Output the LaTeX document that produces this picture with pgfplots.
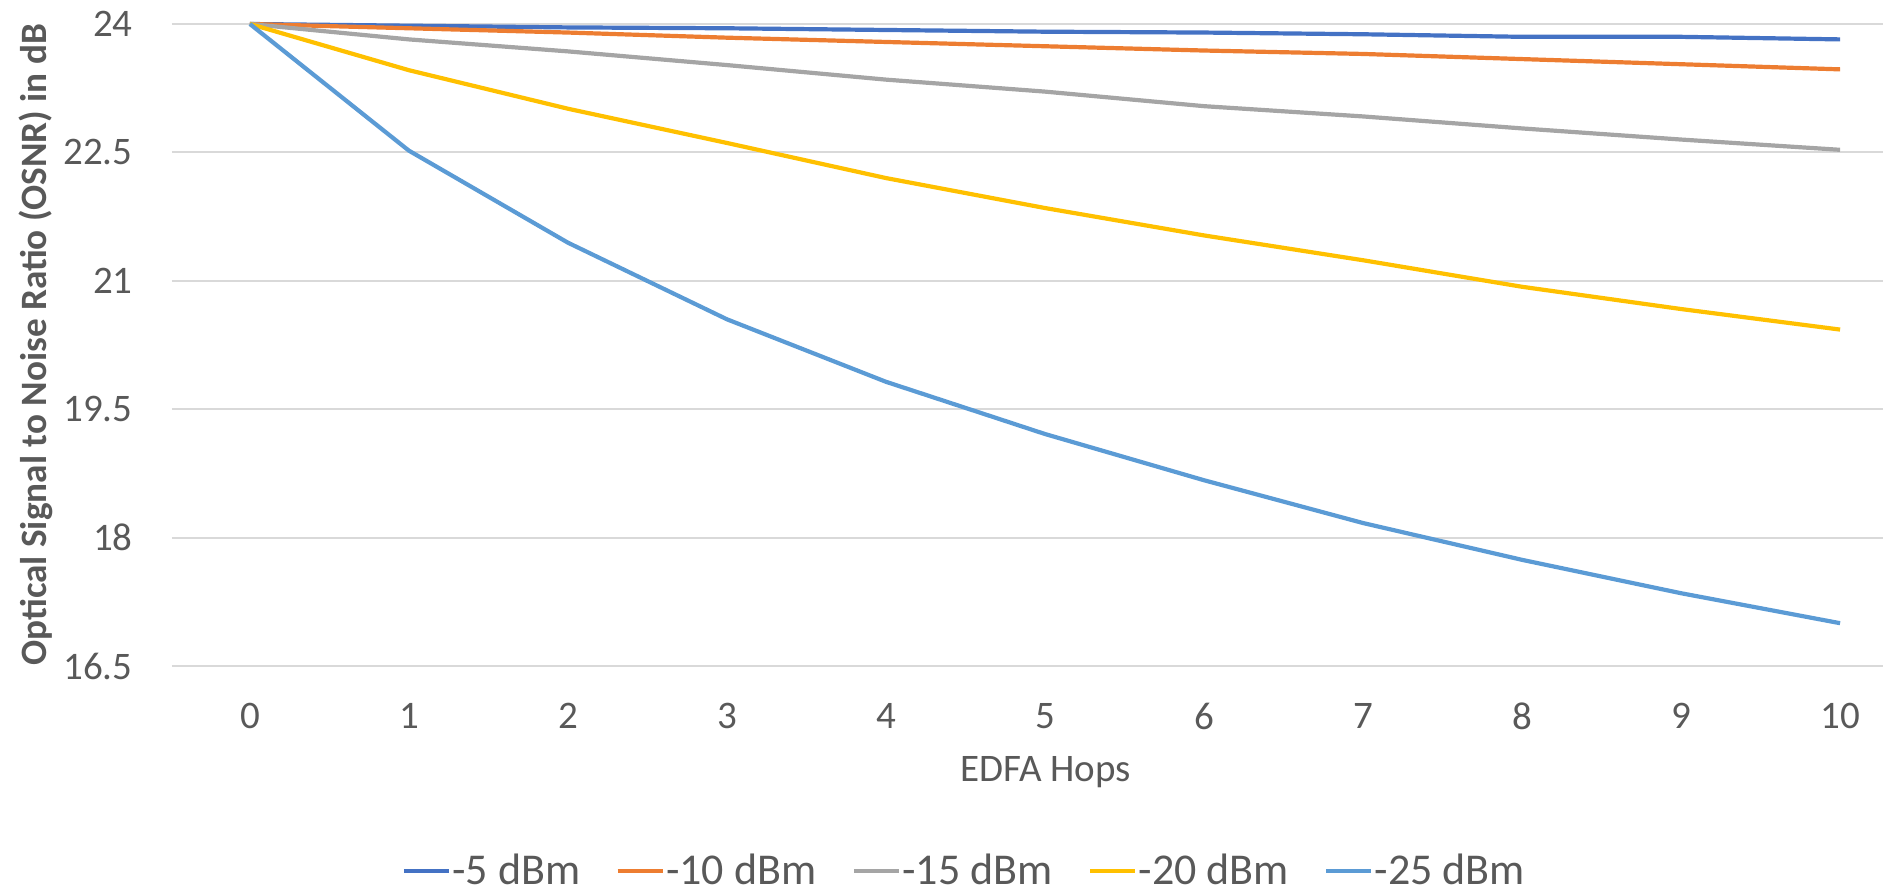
\documentclass[border=0pt]{standalone}
\usepackage{fontspec}
\setmainfont{Carlito}
\usepackage{pgfplots}
\pgfplotsset{compat=1.18}
\definecolor{c5}{HTML}{4472C4}
\definecolor{c10}{HTML}{ED7D31}
\definecolor{c15}{HTML}{A5A5A5}
\definecolor{c20}{HTML}{FFC000}
\definecolor{c25}{HTML}{5B9BD5}
\definecolor{txt}{HTML}{595959}
\definecolor{grd}{HTML}{D9D9D9}
\begin{document}
\begin{tikzpicture}
\begin{axis}[
  name=ax,
  scale only axis,
  width=855.5pt, height=321pt,
  xmin=-0.49, xmax=10.27,
  ymin=16.5, ymax=24,
  clip=false,
  xtick={0,1,2,3,4,5,6,7,8,9,10},
  ytick={16.5,18,19.5,21,22.5,24},
  yticklabels={16.5,18,19.5,21,22.5,24},
  xticklabels={0,1,2,3,4,5,6,7,8,9,10},
  ymajorgrids=true,
  major grid style={color=grd, line width=1pt},
  axis line style={draw=none},
  tick style={draw=none},
  /pgf/number format/assume math mode=true,
  xticklabel style={font=\fontsize{19.5}{22}\selectfont, text=txt, anchor=center, yshift=-25pt, inner sep=0pt},
  yticklabel style={font=\fontsize{19.5}{22}\selectfont, text=txt, anchor=east, xshift=-19.5pt, inner sep=0pt},
  xlabel={EDFA Hops},
  xlabel style={font=\fontsize{19.5}{22}\selectfont, text=txt, at={(axis description cs:0.5107,0)}, anchor=center, yshift=-53pt},
  ylabel={Optical Signal to Noise Ratio (OSNR) in dB},
  ylabel style={font=\fontsize{18.6}{21}\selectfont\bfseries, text=txt, at={(axis description cs:-0.0795,0.5)}, anchor=center},
  legend columns=5,
  legend style={draw=none, fill=none, font=\fontsize{22}{25}\selectfont, text=txt,
    at={(axis description cs:0.463,-0.319)}, anchor=center,
    nodes={inner sep=0.75pt},
    /tikz/every even column/.append style={column sep=17pt}},
  legend image code/.code={\draw[#1, line width=2pt] (0pt,0pt) -- (22.5pt,0pt);},
  every axis plot/.append style={line width=2.1pt, line join=round},
]
\addplot[c5, mark=none] coordinates {(0,24) (1,23.98) (2,23.96) (3,23.95) (4,23.93) (5,23.91) (6,23.90) (7,23.88) (8,23.85) (9,23.85) (10,23.82)};
\addlegendentry{-5 dBm}
\addplot[c10, mark=none] coordinates {(0,24) (1,23.95) (2,23.90) (3,23.84) (4,23.79) (5,23.74) (6,23.69) (7,23.65) (8,23.59) (9,23.53) (10,23.47)};
\addlegendentry{-10 dBm}
\addplot[c15, mark=none] coordinates {(0,24) (1,23.82) (2,23.68) (3,23.52) (4,23.35) (5,23.21) (6,23.04) (7,22.92) (8,22.78) (9,22.65) (10,22.53)};
\addlegendentry{-15 dBm}
\addplot[c20, mark=none] coordinates {(0,24) (1,23.46) (2,23.01) (3,22.61) (4,22.20) (5,21.85) (6,21.53) (7,21.24) (8,20.93) (9,20.67) (10,20.43)};
\addlegendentry{-20 dBm}
\addplot[c25, mark=none] coordinates {(0,24) (1,22.52) (2,21.445) (3,20.55) (4,19.82) (5,19.21) (6,18.67) (7,18.17) (8,17.74) (9,17.35) (10,17.00)};
\addlegendentry{-25 dBm}
\end{axis}
\pgfresetboundingbox
\path ([shift={(-86pt,-114.5pt)}]ax.south west) rectangle ([shift={(0pt,12pt)}]ax.north east);
\end{tikzpicture}
\end{document}
